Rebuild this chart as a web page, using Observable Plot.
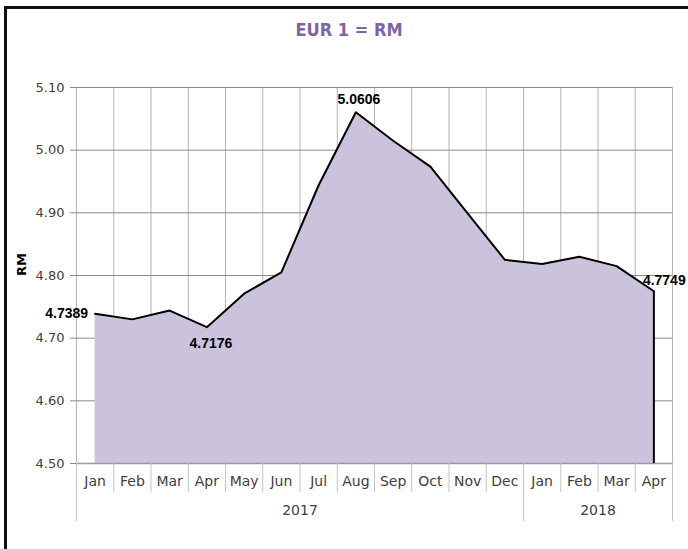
<!DOCTYPE html>
<html>
<head>
<meta charset="utf-8">
<script src="https://cdn.jsdelivr.net/npm/d3@7"></script>
<script src="https://cdn.jsdelivr.net/npm/@observablehq/plot@0.6"></script>
<style>
  html, body { margin: 0; padding: 0; background: #fff; overflow: hidden; }
  #wrap { position: relative; width: 688px; height: 549px; overflow: hidden; }
  #frame { position: absolute; left: 4px; top: 6px; width: 800px; height: 700px; border: 3px solid #111; box-sizing: border-box; }
  #title { position: absolute; left: 0; top: 20px; width: 698px; text-align: center;
           font-family: "Liberation Sans Narrow", "DejaVu Sans Condensed", "Liberation Sans", sans-serif;
           font-weight: bold; font-size: 18px; color: #8064A2; line-height: 20px; }
  #ylab { position: absolute; left: 12px; top: 256px; width: 20px; height: 20px;
          font-family: "DejaVu Sans", sans-serif; font-weight: bold; font-size: 13px; color: #000;
          transform: rotate(-90deg); transform-origin: 10px 10px; line-height: 20px; text-align: center; }
  #chart { position: absolute; left: 0; top: 0; }
</style>
</head>
<body>
<div id="wrap">
  <div id="frame"></div>
  <div id="title">EUR 1 = RM</div>
  <div id="chart"></div>
  <div id="ylab">RM</div>
</div>
<script>
const months = ["Jan","Feb","Mar","Apr","May","Jun","Jul","Aug","Sep","Oct","Nov","Dec","Jan","Feb","Mar","Apr"];
const years = ["2017","2017","2017","2017","2017","2017","2017","2017","2017","2017","2017","2017","2018","2018","2018","2018"];
const rates = [4.7389, 4.7300, 4.7440, 4.7176, 4.7710, 4.8050, 4.9440, 5.0606, 5.0150, 4.9737, 4.8990, 4.8250, 4.8185, 4.8300, 4.8150, 4.7749];
const yTicks = [4.5, 4.6, 4.7, 4.8, 4.9, 5.0, 5.1];
const labelled = [
  {i: 0, dx: -7, dy: 0, anchor: "end"},
  {i: 3, dx: 4, dy: 16, anchor: "middle"},
  {i: 7, dx: 3, dy: -13, anchor: "middle"},
  {i: 15, dx: -11, dy: -11, anchor: "start"}
];

const data = rates.map((v, i) => ({i, month: months[i], year: years[i], v}));
const idx = d3.range(months.length);
const bounds = d3.range(months.length + 1).map(k => k - 0.5);
const yearNames = Array.from(new Set(years));
const yearGroups = yearNames.map(y => {
  const ii = idx.filter(i => years[i] === y);
  return {year: y, start: ii[0] - 0.5, end: ii[ii.length - 1] + 0.5, mid: (ii[0] + ii[ii.length - 1]) / 2};
});
const yearBounds = Array.from(new Set(yearGroups.flatMap(g => [g.start, g.end])));
const labelMarks = labelled.map(l => Plot.text([{i: l.i, v: rates[l.i], text: rates[l.i].toFixed(4)}], {
  x: "i", y: "v", text: "text", dx: l.dx, dy: l.dy, textAnchor: l.anchor,
  fontWeight: "bold", fontSize: 14, fill: "#000", fontFamily: "Liberation Sans, Arial, sans-serif"
}));

const font = "DejaVu Sans, sans-serif";
const chart = Plot.plot({
  width: 688,
  height: 549,
  marginLeft: 76,
  marginRight: 16,
  marginTop: 87,
  marginBottom: 86,
  style: {fontFamily: font, fontSize: "13px", color: "#404040", background: "transparent"},
  x: {domain: [-0.5, months.length - 0.5], axis: null},
  y: {domain: [4.5, 5.1], axis: null},
  marks: [
    Plot.ruleX(bounds, {x: d => d, y1: 4.5, y2: 5.1, stroke: "#b4b4b4", strokeWidth: 1}),
    Plot.ruleY(yTicks, {y: d => d, x1: -0.5, x2: months.length - 0.5, stroke: "#8a8a8a", strokeWidth: 1}),
    Plot.areaY(data, {x: "i", y1: 4.5, y2: "v", fill: "#CBC3DC", fillOpacity: 1}),
    Plot.ruleY([4.5], {stroke: "#9a9a9a", strokeWidth: 1.5}),
    Plot.lineY(data, {x: "i", y: "v", stroke: "#000", strokeWidth: 2}),
    Plot.ruleX([data[data.length - 1]], {x: "i", y1: 4.5, y2: "v", stroke: "#000", strokeWidth: 2}),
    Plot.axisY({ticks: yTicks, tickFormat: d3.format(".2f"), tickSize: 6, tickPadding: 6, stroke: "#8a8a8a", fill: "#404040", fontSize: 13, label: null}),
    Plot.axisX({ticks: bounds, tickSize: 29, tickFormat: () => "", stroke: "#c4c4c4", label: null}),
    Plot.axisX({ticks: yearBounds, tickSize: 58, tickFormat: () => "", stroke: "#c4c4c4", label: null}),
    Plot.axisX({ticks: idx, tickSize: 0, tickPadding: 13, tickFormat: i => months[i], fill: "#404040", fontSize: 14, label: null}),
    Plot.axisX({ticks: yearGroups.map(g => g.mid), tickSize: 0, tickPadding: 42, tickFormat: m => yearGroups.find(g => g.mid === m).year, fill: "#404040", fontSize: 14, label: null}),
    ...labelMarks
  ]
});
document.getElementById("chart").appendChild(chart);
</script>
</body>
</html>
